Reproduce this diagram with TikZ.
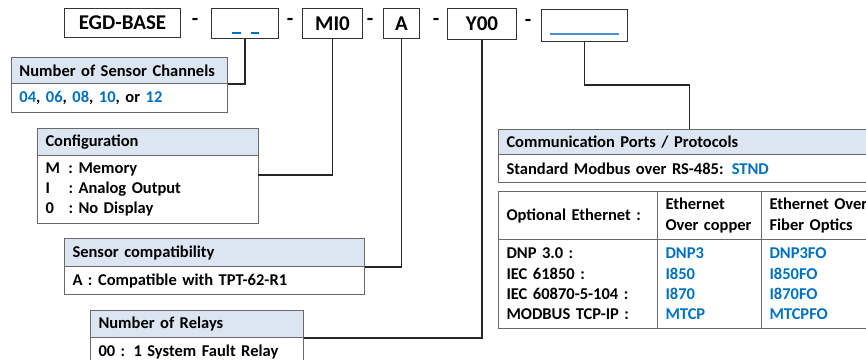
\documentclass[tikz,border=0pt]{standalone}
\usepackage{fontspec}
\setmainfont{Carlito}
\definecolor{codeblue}{RGB}{0,112,192}
\definecolor{lineblue}{RGB}{74,144,217}
\definecolor{hdrfill}{RGB}{220,230,242}
\definecolor{boxgray}{RGB}{105,105,105}
\newcommand{\cb}[1]{\textcolor{codeblue}{#1}}
\begin{document}
\begin{tikzpicture}[x=1pt,y=-1pt,
  font=\bfseries\fontsize{16.5}{20.4}\selectfont,
  bigfont/.style={font=\bfseries\fontsize{21}{24}\selectfont},
  topbox/.style={draw=black!80, line width=1pt, anchor=north west, inner sep=0pt, bigfont},
  sepdash/.style={inner sep=0pt, bigfont},
  hdr/.style={draw=boxgray, fill=hdrfill, line width=1pt, anchor=north west, align=left, inner xsep=8pt, inner ysep=0pt},
  bdy/.style={draw=boxgray, fill=white, line width=1pt, anchor=north west, align=left, inner xsep=8pt, inner ysep=0pt},
  tcell/.style={draw=boxgray, line width=1pt, anchor=north west, align=left, inner xsep=8pt, inner ysep=0pt},
  link/.style={draw=black!85, line width=1.3pt},
  bw/.style={minimum width=#1pt, text width=#1pt-16pt},
  bh/.style={minimum height=#1pt}]
\useasboundingbox (0,0) rectangle (866,359);
\clip (0,0) rectangle (866,359);

% top code boxes
\node[topbox, minimum width=116pt, minimum height=29pt] (base) at (64,8) {EGD-BASE};
\node[sepdash] (d1) at (195,22) {-};
\node[topbox, minimum width=67pt, minimum height=30pt] (chan) at (211,8) {};
\node[sepdash] (d2) at (290,22) {-};
\node[topbox, minimum width=60pt, minimum height=30pt] (mi0) at (302,8) {MI0};
\node[sepdash] (d3) at (370,22) {-};
\node[topbox, minimum width=36pt, minimum height=30pt] (a) at (383,8) {A};
\node[sepdash] (d4) at (436,22) {-};
\node[topbox, minimum width=69pt, minimum height=31pt] (y00) at (447,8) {Y00};
\node[sepdash] (d5) at (528,23) {-};
\node[topbox, minimum width=86pt, minimum height=32pt] (comm) at (541,9) {};
\draw[codeblue, line width=2pt] (232,33) -- (241,33) (251,33) -- (259,33);
\draw[lineblue, line width=2pt] (550,34) -- (619,34);

% Number of sensor channels
\node[hdr, bw=216, bh=26] (schhead) at (11,57) {Number of Sensor Channels};
\node[bdy, bw=216, bh=29] (schbody) at (11,83) {\cb{04}, \cb{06}, \cb{08}, \cb{10}, or \cb{12}};

% Configuration
\node[hdr, bw=221, bh=27] (cfghead) at (37,128) {Configuration};
\node[bdy, bw=221, bh=68] (cfgbody) at (37,155) {%
  \makebox[23pt][l]{M}\makebox[10pt][l]{:}Memory\\
  \makebox[23pt][l]{I}\makebox[10pt][l]{:}Analog Output\\
  \makebox[23pt][l]{0}\makebox[10pt][l]{:}No Display};
\coordinate (cfgin) at (258,175);

% Sensor compatibility
\node[hdr, bw=300, bh=28] (cmphead) at (64,238) {Sensor compatibility};
\node[bdy, bw=300, bh=28] (cmpbody) at (64,266) {A : Compatible with TPT-62-R1};

% Number of relays
\node[hdr, bw=213, bh=27] (relhead) at (90,310) {Number of Relays};
\node[bdy, bw=213, bh=30] (relbody) at (90,337) {00 : 1 System Fault Relay};

% Communication ports
\node[hdr, bw=382, bh=25] (cphead) at (498,129) {Communication Ports / Protocols};
\node[bdy, bw=382, bh=28] (cpbody) at (498,154) {Standard Modbus over RS-485: \cb{STND}};

% table
\node[tcell, bw=159, bh=48] (t11) at (498,191) {Optional Ethernet :};
\node[tcell, bw=104, bh=48] (t12) at (657,191) {Ethernet\\Over copper};
\node[tcell, bw=140, bh=48, inner xsep=7pt] (t13) at (761,191) {Ethernet Over\\Fiber Optics};
\node[tcell, bw=159, bh=89] (t21) at (498,239) {DNP 3.0 :\\IEC 61850 :\\IEC 60870-5-104 :\\MODBUS TCP-IP :};
\node[tcell, bw=104, bh=89, text=codeblue] (t22) at (657,239) {DNP3\\I850\\I870\\MTCP};
\node[tcell, bw=140, bh=89, inner xsep=7pt, text=codeblue] (t23) at (761,239) {DNP3FO\\I850FO\\I870FO\\MTCPFO};

% connectors
\draw[link] (chan.south) |- (schhead.south east);
\draw[link] (mi0.south) |- (cfgin);
\draw[link] (a.south) |- (cmphead.south east);
\draw[link] (y00.south) |- (relhead.south east);
\draw[link] (comm.south) -- ++(0,43) -| (cphead.north);
\end{tikzpicture}
\end{document}
